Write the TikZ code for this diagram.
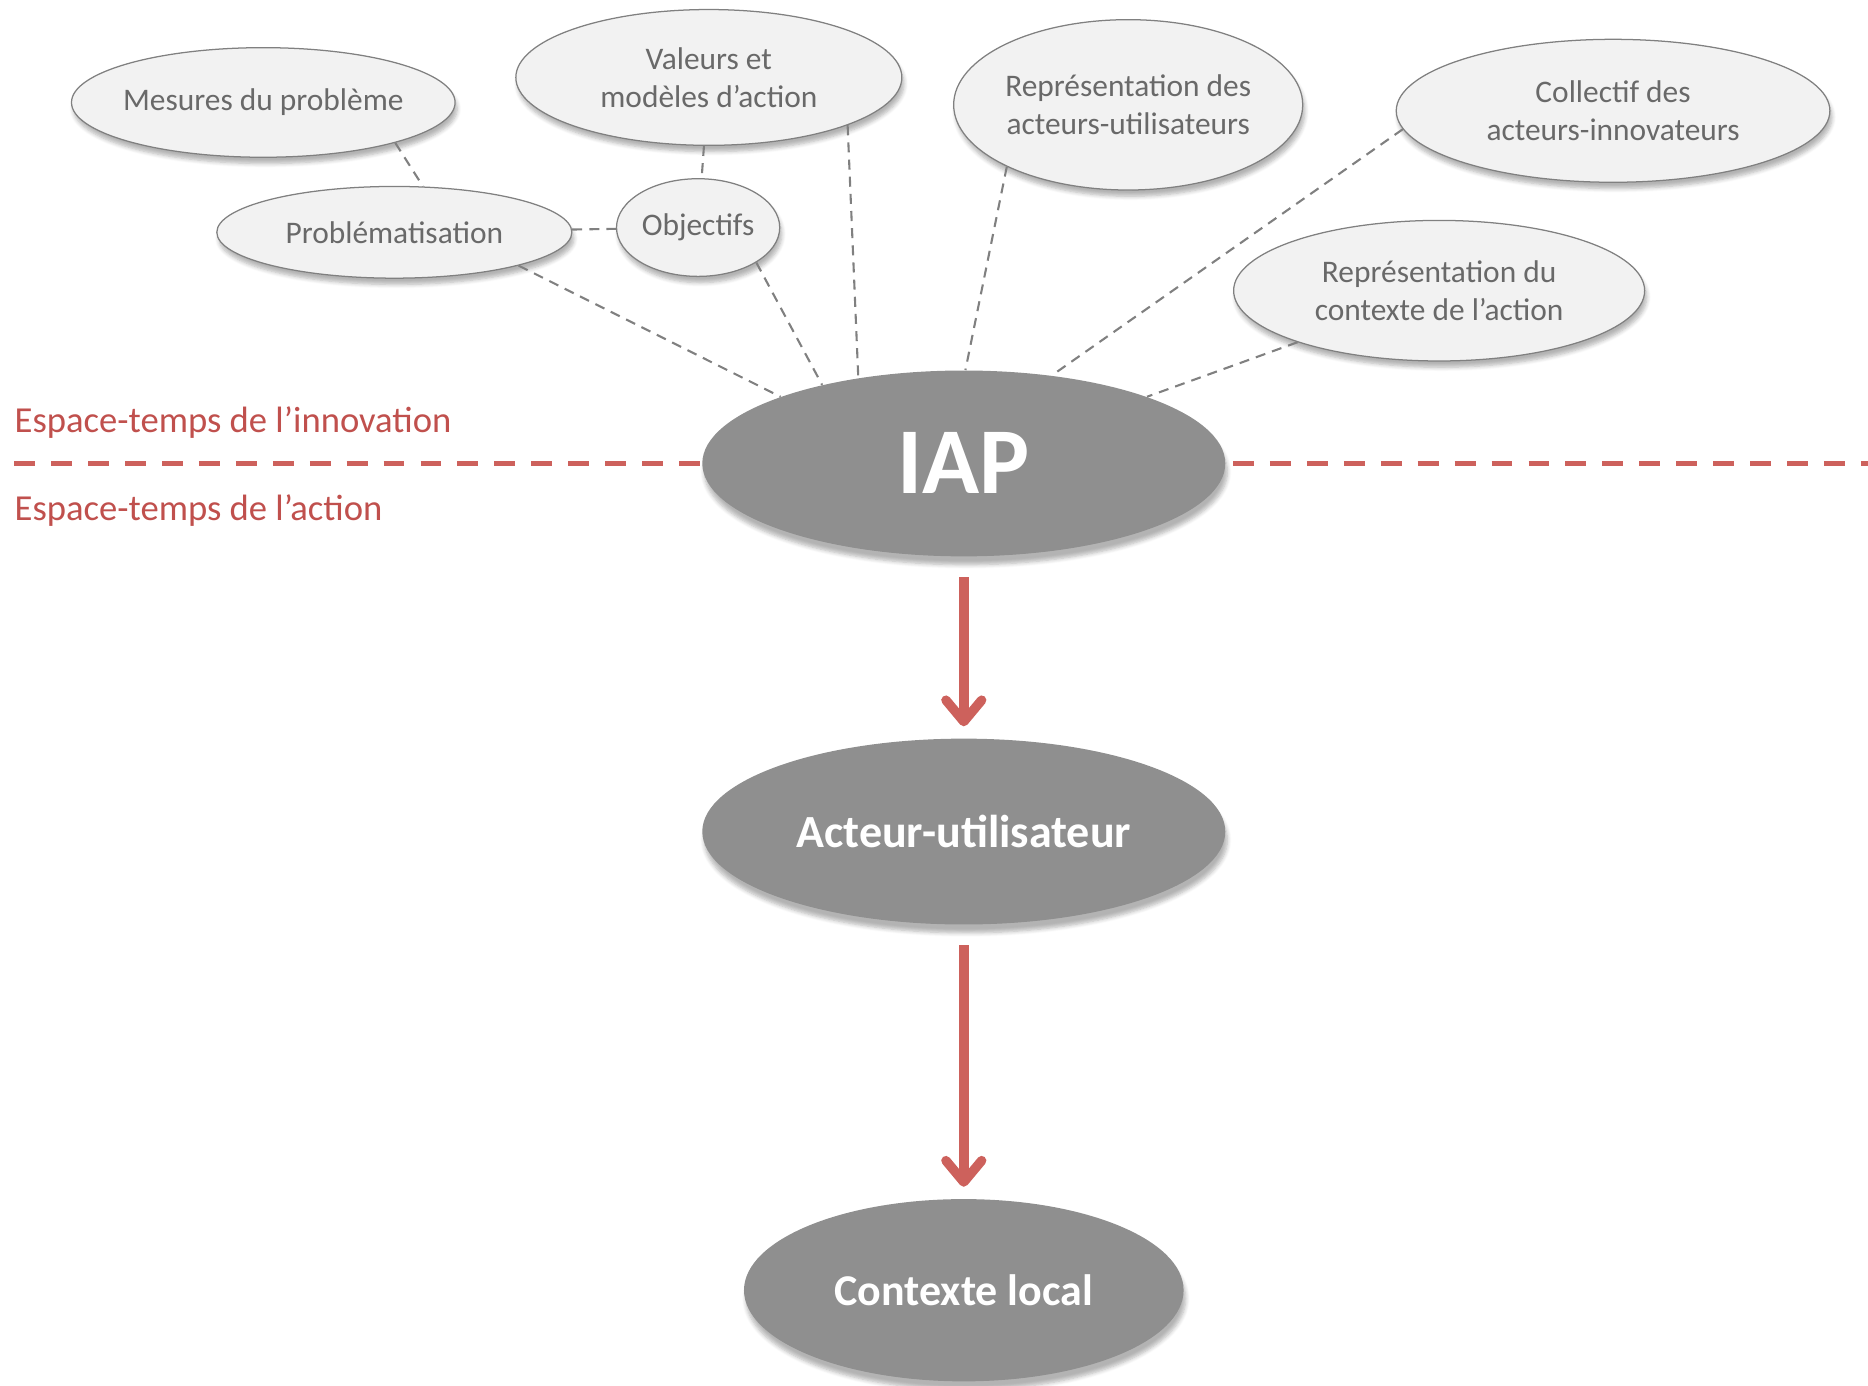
\documentclass[tikz,border=0pt]{standalone}
\usepackage{fontspec}
\setmainfont{Carlito}
\usepackage{xcolor}
\usepackage{tikz}
\usetikzlibrary{positioning}
\usetikzlibrary{shapes.geometric}
\usetikzlibrary{arrows.meta}
\usetikzlibrary{shadows.blur}

\definecolor{bubblefill}{RGB}{242,242,242}
\definecolor{bubbleline}{RGB}{128,128,128}
\definecolor{bubbletext}{RGB}{105,105,105}
\definecolor{corefill}{RGB}{143,143,143}
\definecolor{splitred}{RGB}{205,97,92}
\definecolor{labelred}{RGB}{192,80,77}

\begin{document}
\begin{tikzpicture}[
    bubblenode/.style={ellipse, draw=bubbleline, line width=0.6pt, fill=bubblefill, text=bubbletext,
        align=center, inner xsep=-0.2cm, inner ysep=0pt, font=\fontsize{15}{18}\selectfont,
        blur shadow={shadow xshift=1pt, shadow yshift=-3pt, shadow blur steps=6, shadow opacity=30}},
    corenode/.style={ellipse, fill=corefill, text=white, inner sep=0pt,
        blur shadow={shadow xshift=1pt, shadow yshift=-4pt, shadow blur steps=6, shadow opacity=30}},
    linkline/.style={draw=bubbleline, line width=1pt, dash pattern=on 4.8pt off 3.4pt},
    splitline/.style={draw=splitred, line width=2.8pt, dash pattern=on 0.35cm off 0.27cm},
    flowarrow/.style={draw=splitred, line width=4.5pt, -{Straight Barb[length=0.36cm,width=0.6cm,round]},
        shorten <=0.34cm, shorten >=0.2cm},
    spacelabel/.style={text=labelred, font=\fontsize{17.5}{21}\selectfont, inner sep=0pt, anchor=base west}
]
    \useasboundingbox (0,0) rectangle (31.36,-23.26);

    % separation line
    \coordinate (splitW) at (0.24,-7.78);
    \coordinate (splitE) at (31.36,-7.78);
    \draw[splitline] (splitW) -- (splitE);

    \node[spacelabel] (innov) at (0.24,-7.26) {Espace-temps de l’innovation};
    \node[spacelabel] (action) at (0.24,-8.74) {Espace-temps de l’action};

    % bubbles
    \node[bubblenode, minimum width=6.44cm, minimum height=1.84cm] (mes) at (4.42,-1.72) {Mesures du problème};
    \node[bubblenode, minimum width=6.48cm, minimum height=2.28cm] (val) at (11.90,-1.30) {Valeurs et\\modèles d’action};
    \node[bubblenode, minimum width=5.86cm, minimum height=2.86cm] (rep) at (18.94,-1.76) {Représentation des\\acteurs-utilisateurs};
    \node[bubblenode, minimum width=7.28cm, minimum height=2.40cm] (col) at (27.08,-1.86) {Collectif des\\acteurs-innovateurs};
    \node[bubblenode, minimum width=5.96cm, minimum height=1.54cm] (prob) at (6.62,-3.90) {Problématisation};
    \node[bubblenode, minimum width=2.74cm, minimum height=1.64cm] (obj) at (11.72,-3.82) {Objectifs};
    \node[bubblenode, minimum width=6.90cm, minimum height=2.36cm] (ctx) at (24.16,-4.88) {Représentation du\\contexte de l’action};

    % main chain
    \node[corenode, minimum width=8.78cm, minimum height=3.12cm, font=\fontsize{45}{54}\selectfont\bfseries] (iap) at (16.18,-7.78) {IAP};
    \node[corenode, minimum width=8.78cm, minimum height=3.12cm, font=\fontsize{22}{26}\selectfont\bfseries] (act) at (16.18,-13.96) {Acteur-utilisateur};
    \node[corenode, minimum width=7.38cm, minimum height=3.06cm, font=\fontsize{21}{25}\selectfont\bfseries] (loc) at (16.18,-21.66) {Contexte local};

    \draw[linkline] (mes.-17) -- (prob.58);
    \draw[linkline] (prob) -- (obj);
    \draw[linkline] (val) -- (obj);
    \draw[linkline] (prob.-15) -- (iap.160);
    \draw[linkline] (obj.-31) -- (iap.151);
    \draw[linkline] (val.-19) -- (iap.141);
    \draw[linkline] (rep.207) -- (iap.89);
    \draw[linkline] (col.185) -- (iap.45);
    \draw[linkline] (ctx.200) -- (iap.20);

    \draw[flowarrow] (iap) -- (act);
    \draw[flowarrow] (act) -- (loc);
\end{tikzpicture}
\end{document}
